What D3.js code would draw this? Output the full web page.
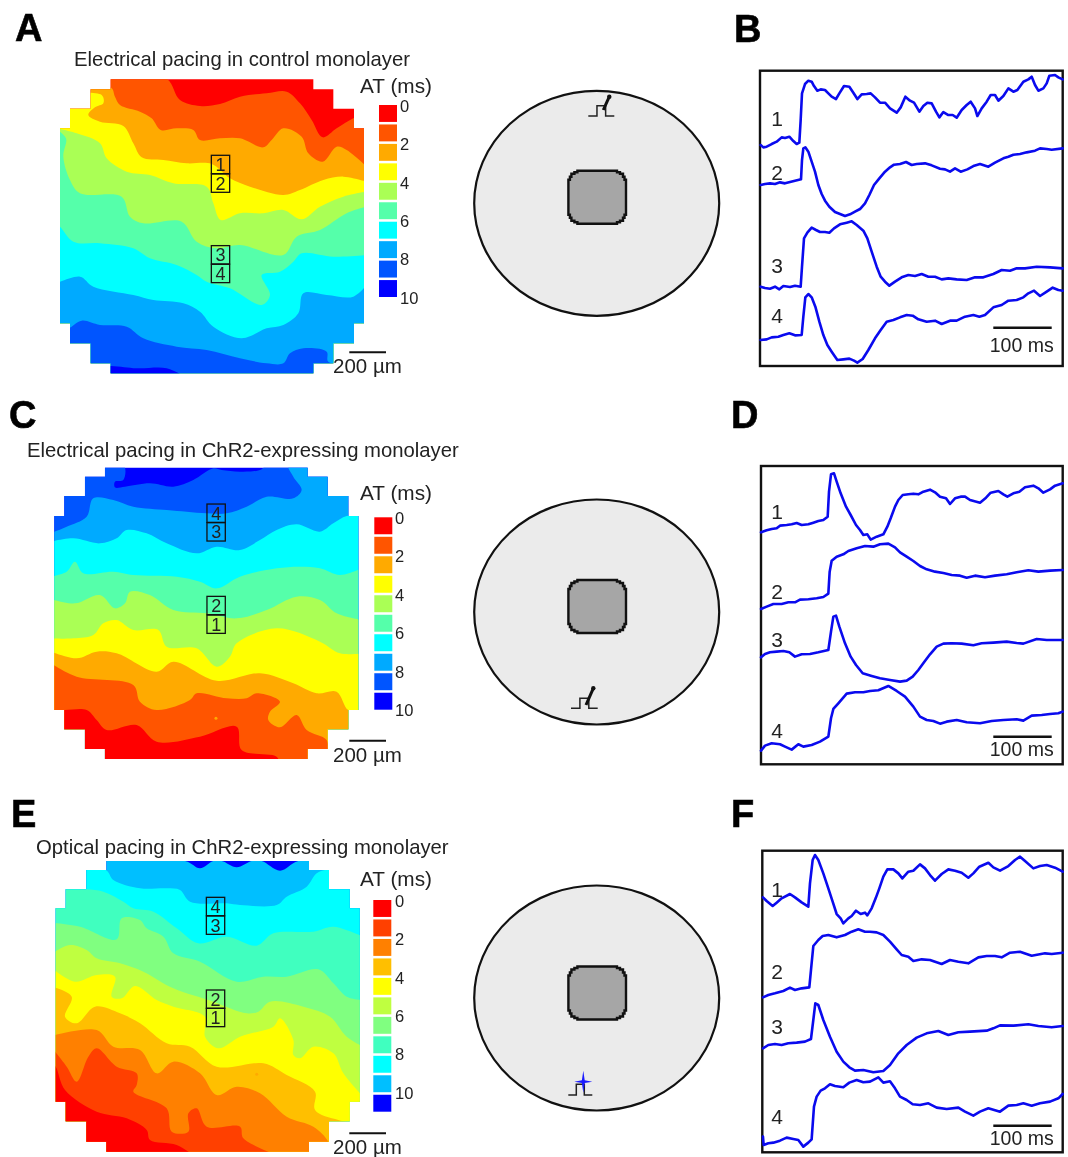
<!DOCTYPE html>
<html>
<head>
<meta charset="utf-8">
<script src="https://cdn.jsdelivr.net/npm/d3@7"></script>
<style>
  html, body { margin: 0; padding: 0; background: #fff; }
  svg { display: block; filter: blur(0.4px); }
  text { font-family: "Liberation Sans", Arial, sans-serif; fill: #222; }
</style>
</head>
<body>
<script>
// activation time colours, early to late
const colors10 = ['#ff0000', '#ff5500', '#ffaa00', '#ffff00', '#aaff55', '#55ffaa', '#00ffff', '#00aaff', '#0055ff', '#0000ff'];
const colors11 = ['#ff0000', '#ff4000', '#ff8000', '#ffbf00', '#ffff00', '#bfff40', '#80ff80', '#40ffbf', '#00ffff', '#00bfff', '#0000ff'];
const atTicks = [0, 2, 4, 6, 8, 10];
const markerLabels = ['1', '2', '3', '4'];

// isochrone lines, map units (3 per pixel), top band to bottom band
const isochronesA = [
  [[-10, -5], [315, -5], [360, 62], [420, 80], [480, 74], [540, 52], [620, 42], [680, 37], [720, 72], [755, 122], [788, 174], [830, 147], [880, 117], [920, 100]],
  [[-10, 24], [152, 24], [165, 52], [180, 77], [240, 97], [275, 117], [302, 152], [350, 147], [400, 152], [420, 182], [480, 177], [540, 177], [610, 204], [635, 182], [670, 147], [725, 172], [745, 222], [788, 247], [830, 202], [860, 212], [920, 262]],
  [[-10, 45], [125, 47], [130, 72], [105, 84], [85, 107], [120, 127], [190, 140], [220, 192], [245, 234], [310, 242], [380, 252], [455, 254], [510, 297], [570, 322], [670, 347], [720, 332], [790, 302], [850, 292], [920, 307]],
  [[-10, 147], [50, 162], [120, 192], [140, 237], [200, 277], [270, 287], [340, 312], [440, 322], [460, 372], [482, 422], [540, 402], [610, 402], [670, 392], [725, 420], [780, 382], [850, 352], [920, 337]],
  [[-10, 150], [18, 177], [10, 232], [30, 302], [60, 342], [185, 352], [210, 412], [250, 432], [365, 427], [410, 487], [470, 507], [540, 497], [670, 527], [710, 472], [780, 452], [860, 402], [920, 382]],
  [[-10, 437], [0, 442], [40, 487], [120, 492], [220, 507], [270, 537], [350, 557], [410, 587], [440, 607], [510, 627], [605, 677], [630, 647], [605, 587], [660, 577], [700, 547], [725, 522], [820, 532], [920, 527]],
  [[-10, 612], [60, 592], [100, 622], [220, 647], [280, 662], [370, 672], [420, 697], [460, 742], [545, 777], [620, 747], [670, 737], [715, 702], [730, 642], [800, 647], [880, 652], [920, 617]],
  [[-10, 750], [25, 747], [65, 724], [120, 737], [200, 742], [250, 777], [350, 802], [440, 812], [540, 837], [620, 852], [670, 852], [690, 822], [730, 807], [800, 817], [805, 847], [920, 852]],
  [[-10, 862], [152, 860], [230, 867], [320, 867], [370, 890]],
];
const isochronesC = [
  [[-10, -10], [207, -10], [207, 37], [182, 42], [182, 59], [212, 57], [287, 47], [357, 57], [417, 37], [477, 2], [502, 7], [557, 12], [617, 7], [642, -10], [922, -10]],
  [[-10, 195], [0, 192], [37, 177], [97, 147], [117, 92], [177, 97], [237, 117], [337, 127], [397, 132], [457, 137], [517, 137], [577, 117], [637, 87], [717, 92], [742, 67], [717, 27], [702, -10], [922, -10]],
  [[-10, 222], [57, 212], [137, 227], [187, 212], [217, 187], [277, 197], [337, 227], [427, 257], [487, 237], [557, 247], [617, 217], [667, 187], [727, 170], [797, 192], [837, 167], [877, 145], [922, 145]],
  [[-10, 327], [37, 312], [62, 282], [87, 317], [177, 312], [237, 322], [367, 327], [437, 342], [487, 362], [557, 327], [667, 302], [737, 297], [797, 302], [857, 322], [922, 302]],
  [[-10, 394], [62, 407], [137, 382], [182, 422], [212, 407], [227, 372], [287, 382], [357, 427], [457, 437], [547, 452], [637, 427], [727, 387], [797, 397], [847, 437], [922, 457]],
  [[-10, 512], [57, 512], [117, 502], [147, 467], [187, 457], [237, 487], [312, 487], [337, 537], [427, 542], [487, 597], [527, 567], [547, 527], [667, 482], [797, 522], [857, 557], [922, 557]],
  [[-10, 552], [67, 572], [127, 552], [187, 557], [307, 612], [357, 582], [487, 639], [617, 617], [717, 647], [787, 677], [847, 672], [882, 727], [922, 727]],
  [[-10, 587], [67, 627], [237, 652], [257, 702], [307, 727], [407, 697], [427, 677], [517, 692], [577, 692], [607, 677], [677, 702], [647, 732], [642, 757], [677, 779], [727, 742], [757, 787], [817, 817], [822, 857], [830, 890]],
  [[-10, 727], [32, 727], [97, 727], [127, 757], [157, 787], [247, 772], [307, 822], [437, 807], [547, 777], [562, 847], [667, 867], [677, 890]],
];
const isochronesE = [
  [[-10, -10], [388, 0], [433, 22], [473, 0], [498, 0], [543, 19], [588, 0], [618, 0], [673, 29], [728, 0], [922, -10]],
  [[-10, 20], [150, 27], [173, 57], [253, 82], [333, 82], [373, 87], [403, 122], [513, 127], [553, 132], [663, 132], [693, 107], [753, 77], [783, 37], [818, 25], [922, 25]],
  [[-10, 85], [30, 85], [91, 85], [143, 92], [203, 122], [233, 142], [293, 152], [363, 202], [428, 247], [513, 227], [603, 254], [653, 217], [773, 212], [833, 197], [922, 227]],
  [[-10, 185], [73, 197], [183, 235], [198, 172], [253, 177], [273, 202], [323, 227], [353, 277], [433, 302], [543, 362], [623, 347], [693, 347], [788, 325], [833, 367], [873, 407], [922, 417]],
  [[-10, 277], [43, 252], [93, 267], [123, 292], [193, 307], [263, 332], [353, 382], [473, 422], [573, 457], [608, 452], [643, 422], [743, 437], [823, 467], [873, 527], [922, 557]],
  [[-10, 322], [58, 362], [123, 342], [178, 347], [168, 407], [198, 412], [238, 375], [303, 417], [353, 437], [448, 467], [448, 527], [488, 562], [553, 527], [653, 497], [673, 472], [713, 537], [713, 582], [733, 592], [773, 557], [833, 577], [863, 637], [922, 707]],
  [[-10, 377], [48, 407], [28, 467], [63, 487], [118, 437], [193, 457], [253, 487], [333, 547], [403, 557], [483, 617], [623, 607], [693, 642], [778, 692], [778, 747], [848, 777], [922, 790]],
  [[-10, 524], [123, 507], [173, 557], [253, 567], [303, 637], [353, 602], [433, 637], [483, 702], [543, 677], [613, 697], [693, 767], [773, 797], [818, 842], [830, 890]],
  [[-10, 562], [33, 617], [63, 662], [98, 587], [123, 562], [183, 617], [243, 637], [243, 672], [233, 692], [333, 742], [348, 812], [398, 812], [398, 757], [423, 742], [453, 797], [553, 797], [563, 832], [683, 890]],
  [[-10, 610], [0, 617], [28, 687], [123, 752], [213, 772], [273, 807], [283, 837], [363, 852], [423, 890]],
];

// optical traces, [sample, level]
const tracesB = [
  [[92, 255], [100, 262], [110, 260], [125, 252], [140, 245], [155, 232], [165, 234], [178, 230], [190, 243], [200, 252], [208, 248], [212, 180], [216, 100], [225, 72], [235, 62], [245, 65], [252, 78], [262, 92], [272, 88], [285, 90], [295, 100], [305, 110], [318, 117], [328, 100], [342, 78], [358, 80], [370, 98], [382, 117], [395, 103], [410, 102], [422, 100], [435, 112], [450, 128], [465, 128], [480, 145], [500, 158], [512, 142], [526, 110], [540, 122], [552, 128], [568, 155], [580, 138], [592, 128], [605, 130], [618, 155], [628, 172], [640, 156], [655, 165], [668, 165], [680, 173], [695, 150], [710, 135], [722, 125], [735, 145], [742, 168], [755, 145], [770, 125], [782, 105], [795, 105], [805, 122], [820, 108], [835, 85], [850, 95], [862, 90], [880, 65], [895, 58], [905, 50], [915, 75], [925, 92], [940, 85], [950, 70], [958, 47], [975, 45], [985, 52], [998, 58]],
  [[92, 375], [105, 372], [120, 370], [135, 372], [150, 367], [165, 370], [180, 366], [195, 362], [213, 358], [216, 300], [220, 265], [226, 262], [235, 275], [245, 305], [255, 335], [265, 375], [275, 402], [285, 422], [298, 440], [315, 456], [330, 462], [345, 468], [360, 463], [375, 455], [390, 447], [405, 430], [418, 405], [432, 375], [448, 355], [465, 335], [480, 322], [492, 314], [510, 312], [528, 306], [545, 315], [560, 312], [585, 310], [605, 316], [630, 326], [645, 328], [660, 335], [675, 325], [692, 335], [712, 328], [730, 318], [750, 312], [775, 320], [795, 308], [820, 295], [835, 290], [850, 284], [870, 282], [890, 277], [915, 272], [930, 265], [950, 267], [965, 269], [998, 265]],
  [[92, 680], [105, 684], [120, 686], [135, 680], [148, 688], [160, 678], [180, 681], [195, 677], [212, 680], [216, 620], [222, 535], [232, 518], [245, 503], [258, 510], [270, 516], [285, 516], [298, 518], [312, 505], [330, 493], [350, 488], [365, 484], [380, 495], [400, 512], [412, 535], [425, 575], [440, 620], [452, 650], [465, 665], [478, 677], [495, 665], [515, 652], [535, 645], [555, 648], [575, 642], [595, 650], [615, 650], [635, 658], [655, 655], [680, 658], [710, 660], [735, 652], [760, 652], [790, 642], [815, 630], [840, 632], [860, 625], [885, 625], [920, 620], [960, 622], [998, 625]],
  [[92, 840], [110, 838], [125, 832], [145, 830], [160, 825], [178, 820], [195, 826], [215, 825], [220, 770], [226, 712], [235, 702], [245, 712], [256, 740], [268, 785], [280, 825], [292, 855], [305, 875], [322, 900], [340, 898], [358, 896], [372, 902], [382, 908], [398, 897], [415, 870], [435, 835], [452, 810], [470, 785], [490, 780], [510, 772], [530, 765], [548, 767], [565, 778], [590, 785], [615, 782], [635, 792], [660, 782], [680, 782], [705, 770], [730, 765], [748, 770], [765, 765], [790, 742], [815, 735], [835, 722], [860, 720], [880, 712], [895, 700], [912, 692], [930, 708], [950, 695], [968, 683], [985, 690], [998, 692]],
];
const tracesD = [
  [[93, 232], [110, 226], [125, 222], [140, 220], [150, 212], [170, 210], [185, 208], [200, 204], [215, 210], [235, 208], [250, 203], [265, 198], [280, 195], [293, 185], [297, 110], [303, 58], [312, 55], [320, 80], [332, 115], [348, 155], [362, 180], [378, 210], [390, 225], [400, 240], [412, 238], [422, 254], [440, 245], [460, 238], [472, 215], [482, 190], [495, 155], [505, 135], [518, 120], [535, 118], [550, 116], [565, 118], [580, 110], [600, 104], [615, 112], [630, 125], [648, 130], [660, 147], [675, 130], [692, 125], [705, 125], [720, 135], [750, 143], [768, 128], [782, 113], [805, 108], [820, 118], [832, 125], [850, 115], [868, 110], [885, 97], [910, 92], [925, 100], [940, 113], [960, 103], [975, 92], [998, 85]],
  [[93, 462], [110, 455], [130, 447], [155, 447], [175, 442], [195, 442], [210, 434], [235, 433], [260, 430], [280, 426], [295, 416], [299, 350], [305, 317], [320, 305], [340, 298], [355, 288], [380, 280], [405, 273], [430, 275], [450, 268], [475, 266], [495, 277], [510, 292], [530, 305], [550, 318], [570, 333], [590, 343], [615, 350], [640, 354], [665, 360], [690, 362], [710, 368], [735, 362], [765, 367], [795, 362], [830, 358], [860, 352], [895, 346], [925, 350], [960, 347], [998, 345]],
  [[93, 607], [105, 597], [120, 592], [140, 590], [160, 588], [178, 592], [195, 605], [215, 598], [240, 597], [265, 592], [295, 585], [303, 530], [310, 485], [318, 482], [328, 515], [345, 565], [362, 605], [378, 630], [398, 655], [425, 663], [450, 670], [480, 675], [510, 680], [530, 677], [548, 665], [565, 645], [582, 622], [600, 598], [620, 575], [640, 566], [665, 565], [695, 566], [730, 571], [755, 565], [790, 563], [830, 560], [860, 564], [880, 566], [920, 552], [950, 555], [998, 555]],
  [[93, 887], [105, 872], [125, 865], [150, 868], [165, 875], [185, 884], [205, 868], [220, 875], [245, 870], [270, 860], [295, 845], [303, 790], [310, 762], [325, 745], [350, 716], [375, 712], [400, 712], [420, 708], [445, 706], [475, 693], [500, 708], [525, 725], [550, 755], [570, 785], [590, 795], [610, 798], [630, 806], [650, 800], [680, 795], [710, 802], [750, 805], [785, 798], [820, 795], [860, 793], [880, 797], [905, 782], [935, 780], [960, 777], [985, 775], [998, 770]],
];
const tracesF = [
  [[99, 172], [110, 183], [128, 198], [140, 188], [155, 175], [180, 162], [195, 172], [215, 187], [235, 200], [240, 130], [248, 60], [255, 45], [265, 60], [280, 100], [295, 145], [308, 185], [320, 222], [332, 235], [340, 250], [355, 235], [365, 228], [378, 212], [392, 222], [405, 218], [412, 226], [425, 205], [437, 175], [448, 145], [460, 110], [472, 88], [490, 88], [505, 100], [517, 115], [535, 95], [550, 92], [570, 73], [585, 85], [600, 105], [615, 122], [635, 102], [655, 88], [675, 92], [695, 98], [715, 113], [730, 100], [748, 80], [775, 68], [790, 82], [810, 92], [835, 78], [855, 60], [870, 50], [885, 63], [910, 85], [930, 78], [950, 75], [975, 83], [998, 95]],
  [[99, 472], [115, 465], [135, 460], [160, 453], [180, 443], [195, 450], [215, 445], [238, 442], [243, 390], [250, 318], [265, 300], [278, 288], [295, 285], [320, 292], [345, 285], [365, 275], [385, 268], [405, 275], [420, 275], [440, 277], [460, 285], [480, 305], [500, 328], [515, 345], [535, 350], [550, 363], [575, 358], [600, 360], [635, 372], [660, 360], [685, 365], [715, 370], [745, 352], [770, 348], [795, 348], [815, 352], [840, 338], [870, 335], [905, 347], [945, 340], [965, 342], [998, 338]],
  [[99, 625], [115, 615], [135, 612], [155, 615], [175, 610], [200, 608], [225, 605], [243, 597], [250, 540], [256, 490], [265, 495], [280, 540], [300, 590], [320, 635], [340, 665], [358, 682], [375, 692], [400, 690], [430, 697], [460, 693], [480, 675], [505, 640], [530, 615], [560, 593], [590, 580], [625, 573], [655, 585], [685, 577], [720, 575], [770, 572], [790, 565], [810, 556], [850, 557], [895, 553], [925, 558], [965, 562], [998, 558]],
  [[99, 890], [101, 915], [115, 910], [130, 908], [150, 902], [170, 893], [190, 897], [205, 900], [220, 920], [235, 908], [245, 898], [252, 800], [260, 770], [272, 752], [285, 745], [300, 733], [315, 738], [340, 742], [358, 728], [380, 720], [400, 727], [420, 725], [445, 712], [460, 728], [480, 724], [495, 745], [510, 770], [530, 780], [548, 793], [570, 795], [595, 790], [620, 803], [650, 807], [685, 803], [705, 815], [730, 827], [750, 815], [775, 805], [810, 815], [835, 797], [860, 795], [880, 790], [905, 797], [930, 790], [960, 785], [985, 775], [998, 762]],
];

// stimulus pulse drawn in every dish, [time, level]
const pulseShape = [[0, 0], [1, 0], [1, 1], [2, 1], [2, 0], [3, 0]];

const w = 1068;
const h = 1157;
const svg = d3.select('body').append('svg').attr('width', w).attr('height', h);

const mapPanels = [
  { id: 'A', title: 'Electrical pacing in control monolayer', titleX: 74, titleY: 66, left: 60, top: 79.3, lines: isochronesA,
    legend: colors10, bands: colors10, rows: [0, 30, 88, 147, 732, 792, 852, 882], boxes: [['1', 228], ['2', 284], ['3', 499], ['4', 555]], boxX: 454, spots: [],
    atY: 93, legendX: 379, legendTop: 105, legendBottom: 297, tickX: 397, barY: 352.3, barText: 373 },
  { id: 'C', title: 'Electrical pacing in ChR2-expressing monolayer', titleX: 27, titleY: 457, left: 54.3, top: 467.7, lines: isochronesC,
    legend: colors10, bands: colors10.slice().reverse(), rows: [0, 27, 85, 145, 727, 785, 844, 874], boxes: [['4', 109], ['3', 165], ['2', 386], ['1', 442]], boxX: 458, spots: [[485, 752, 2]],
    atY: 500, legendX: 374.3, legendTop: 517.3, legendBottom: 709.7, tickX: 392, barY: 740.7, barText: 761.7 },
  { id: 'E', title: 'Optical pacing in ChR2-expressing monolayer', titleX: 36, titleY: 854, left: 55.7, top: 861, lines: isochronesE,
    legend: colors11, bands: colors11.slice().reverse(), rows: [0, 27, 85, 142, 722, 781, 842, 872], boxes: [['4', 109], ['3', 165], ['2', 387], ['1', 442]], boxX: 452, spots: [[603, 640, 2], [845, 699, 3]],
    atY: 886, legendX: 373.3, legendTop: 900, legendBottom: 1111.7, tickX: 392, barY: 1133.3, barText: 1154 },
];
const maskInset = [152, 92, 30, 0, 30, 92, 152];

mapPanels.forEach((p) => {
  const x = d3.scaleLinear().domain([0, 912]).range([p.left, p.left + 304]);
  const y = d3.scaleLinear().domain([0, 880]).range([p.top, p.top + 880 / 3]);
  const line = d3.line().x((d) => x(d[0])).y((d) => y(d[1]));
  const smooth = d3.line().x((d) => x(d[0])).y((d) => y(d[1])).curve(d3.curveCatmullRom.alpha(0.5));

  svg.append('text').attr('x', p.titleX).attr('y', p.titleY)
    .attr('font-size', 20.3).text(p.title);

  // stepped outline of the recording area
  const leftSide = maskInset.map((ins, i) => [[ins, p.rows[i]], [ins, p.rows[i + 1]]]).flat();
  const rightSide = leftSide.slice().reverse().map((d) => [912 - d[0], d[1]]);
  const clipId = 'clip' + p.id;
  svg.append('clipPath').attr('id', clipId).append('path').attr('d', line(leftSide.concat(rightSide)) + 'Z');

  const map = svg.append('g').attr('clip-path', `url(#${clipId})`);
  map.append('rect').attr('x', x(-10)).attr('y', y(-10)).attr('width', x(922) - x(-10)).attr('height', y(900) - y(-10))
    .attr('fill', p.bands[0]);
  map.selectAll('path.band').data(p.lines).enter().append('path')
    .attr('class', 'band')
    .attr('d', (d) => smooth(d) + `L${x(940)},${y(900)}L${x(-20)},${y(900)}Z`)
    .attr('fill', (d, i) => p.bands[i + 1]);
  map.selectAll('circle').data(p.spots).enter().append('circle')
    .attr('cx', (d) => x(d[0])).attr('cy', (d) => y(d[1])).attr('r', 1.5)
    .attr('fill', (d) => colors10[d[2]]);

  // numbered recording sites
  const site = svg.append('g').selectAll('g').data(p.boxes).enter().append('g');
  site.append('rect').attr('x', x(p.boxX)).attr('y', (d) => y(d[1]))
    .attr('width', x(55) - x(0)).attr('height', y(55) - y(0))
    .attr('fill', 'none').attr('stroke', '#111').attr('stroke-width', 1.3);
  site.append('text').attr('x', x(p.boxX + 27.5)).attr('y', (d) => y(d[1] + 47))
    .attr('text-anchor', 'middle').attr('font-size', 18).text((d) => d[0]);

  // legend
  svg.append('text').attr('x', 360).attr('y', p.atY).attr('font-size', 20.8).text('AT (ms)');
  const band = d3.scaleBand().domain(d3.range(p.legend.length)).range([p.legendTop, p.legendBottom]).paddingInner(0.13);
  svg.append('g').selectAll('rect').data(p.legend).enter().append('rect')
    .attr('x', p.legendX).attr('y', (d, i) => band(i))
    .attr('width', 18).attr('height', band.bandwidth())
    .attr('fill', (d) => d);
  const ticks = d3.scaleLinear().domain([0, 10]).range([p.legendTop + 1, p.legendTop + 193]);
  const axis = svg.append('g').attr('transform', `translate(${p.tickX}, 0)`)
    .call(d3.axisRight(ticks).tickValues(atTicks).tickSize(0).tickPadding(3));
  axis.select('.domain').remove();
  axis.selectAll('text').attr('font-size', 16.5);

  // scale bar
  svg.append('line').attr('x1', 349.3).attr('x2', 386).attr('y1', p.barY).attr('y2', p.barY)
    .attr('stroke', '#111').attr('stroke-width', 2);
  svg.append('text').attr('x', 333).attr('y', p.barText).attr('font-size', 20.5).text('200 µm');
});

// the dish diagrams in the middle column
const dishPanels = [
  { cy: 203.3, squareTop: 170.7, pulseX: [588.3, 614.3], pulseY: [116, 105.7], electrode: [[603.3, 110], [609.3, 96.7]] },
  { cy: 612, squareTop: 580, pulseX: [571, 597.7], pulseY: [708.3, 698.3], electrode: [[586, 705], [593.3, 688.3]] },
  { cy: 998, squareTop: 966.5, pulseX: [568.3, 592.3], pulseY: [1095, 1084.3], star: [583.3, 1081.7] },
];
// one pixelated corner of the central square, from the left side to the top side
const cornerSteps = [[0, 9], [1.5, 9], [1.5, 6], [3, 6], [3, 3], [6, 3], [6, 1.5], [9, 1.5], [9, 0]];

dishPanels.forEach((p) => {
  svg.append('ellipse').attr('cx', 596.7).attr('cy', p.cy).attr('rx', 122.5).attr('ry', 112.5)
    .attr('fill', '#ebebeb').attr('stroke', '#111').attr('stroke-width', 2.2);

  const s = 57.6;
  const sh = 53;
  const x0 = 568.4;
  const y0 = p.squareTop;
  const rev = cornerSteps.slice().reverse();
  const pts = [].concat(
    cornerSteps.map((c) => [x0 + c[0], y0 + c[1]]),
    rev.map((c) => [x0 + s - c[0], y0 + c[1]]),
    cornerSteps.map((c) => [x0 + s - c[0], y0 + sh - c[1]]),
    rev.map((c) => [x0 + c[0], y0 + sh - c[1]])
  );
  svg.append('path').attr('d', d3.line()(pts) + 'Z')
    .attr('fill', '#a6a6a6').attr('stroke', '#111').attr('stroke-width', 2.4);

  const px = d3.scaleLinear().domain([0, 3]).range(p.pulseX);
  const py = d3.scaleLinear().domain([0, 1]).range(p.pulseY);
  svg.append('path').attr('d', d3.line().x((d) => px(d[0])).y((d) => py(d[1]))(pulseShape))
    .attr('fill', 'none').attr('stroke', '#222').attr('stroke-width', 1.5);

  if (p.electrode) {
    svg.append('line').attr('x1', p.electrode[0][0]).attr('y1', p.electrode[0][1])
      .attr('x2', p.electrode[1][0]).attr('y2', p.electrode[1][1])
      .attr('stroke', '#111').attr('stroke-width', 3);
    svg.append('circle').attr('cx', p.electrode[1][0]).attr('cy', p.electrode[1][1]).attr('r', 2.2).attr('fill', '#111');
  }
  if (p.star) {
    const rad = [11, 2, 9, 2, 11, 2, 9, 2];
    const star = d3.lineRadial().angle((d, i) => i * Math.PI / 4).radius((d) => d);
    svg.append('path').attr('transform', `translate(${p.star[0]}, ${p.star[1]})`)
      .attr('d', star(rad) + 'Z').attr('fill', '#1a1aff');
  }
});

// trace boxes on the right
const tracePanels = [
  { id: 'B', traces: tracesB, xDomain: [90, 998], xRange: [760, 1062.7], yDomain: [32, 918], yRange: [70.7, 366], labelY: [125.7, 180, 273, 323], barY: 327.7, barText: 351.7 },
  { id: 'D', traces: tracesD, xDomain: [93, 998], xRange: [761, 1062.7], yDomain: [33, 928], yRange: [466, 764.3], labelY: [519, 599, 647, 738], barY: 736.7, barText: 756 },
  { id: 'F', traces: tracesF, xDomain: [97, 998], xRange: [762.3, 1062.7], yDomain: [32, 937], yRange: [850.7, 1152.3], labelY: [897, 979, 1034, 1124], barY: 1125.7, barText: 1145 },
];

tracePanels.forEach((p) => {
  const x = d3.scaleLinear().domain(p.xDomain).range(p.xRange);
  const y = d3.scaleLinear().domain(p.yDomain).range(p.yRange);
  const line = d3.line().x((d) => x(d[0])).y((d) => y(d[1]));

  svg.append('rect').attr('x', p.xRange[0]).attr('y', p.yRange[0])
    .attr('width', p.xRange[1] - p.xRange[0]).attr('height', p.yRange[1] - p.yRange[0])
    .attr('fill', 'none').attr('stroke', '#111').attr('stroke-width', 2.4);
  svg.append('g').selectAll('path').data(p.traces).enter().append('path')
    .attr('d', line)
    .attr('fill', 'none').attr('stroke', '#0a0aee').attr('stroke-width', 2.6)
    .attr('stroke-linejoin', 'round').attr('stroke-linecap', 'round');
  svg.append('g').selectAll('text').data(markerLabels).enter().append('text')
    .attr('x', 777).attr('y', (d, i) => p.labelY[i])
    .attr('text-anchor', 'middle').attr('font-size', 21).text((d) => d);
  svg.append('line').attr('x1', 993.3).attr('x2', 1051.7).attr('y1', p.barY).attr('y2', p.barY)
    .attr('stroke', '#111').attr('stroke-width', 2.4);
  svg.append('text').attr('x', 1021.7).attr('y', p.barText).attr('text-anchor', 'middle')
    .attr('font-size', 19.5).text('100 ms');
});

// panel letters
const panelLetters = ['A', 'B', 'C', 'D', 'E', 'F'];
const letterX = [15, 734, 9, 731, 11, 731];
const letterY = [41, 42, 428, 428, 827, 827];
svg.append('g').selectAll('text').data(panelLetters).enter().append('text')
  .attr('x', (d, i) => letterX[i]).attr('y', (d, i) => letterY[i])
  .attr('font-size', 38).attr('font-weight', 'bold')
  .style('fill', '#000').style('stroke', '#000').style('stroke-width', 0.6).text((d) => d);
</script>
</body>
</html>
